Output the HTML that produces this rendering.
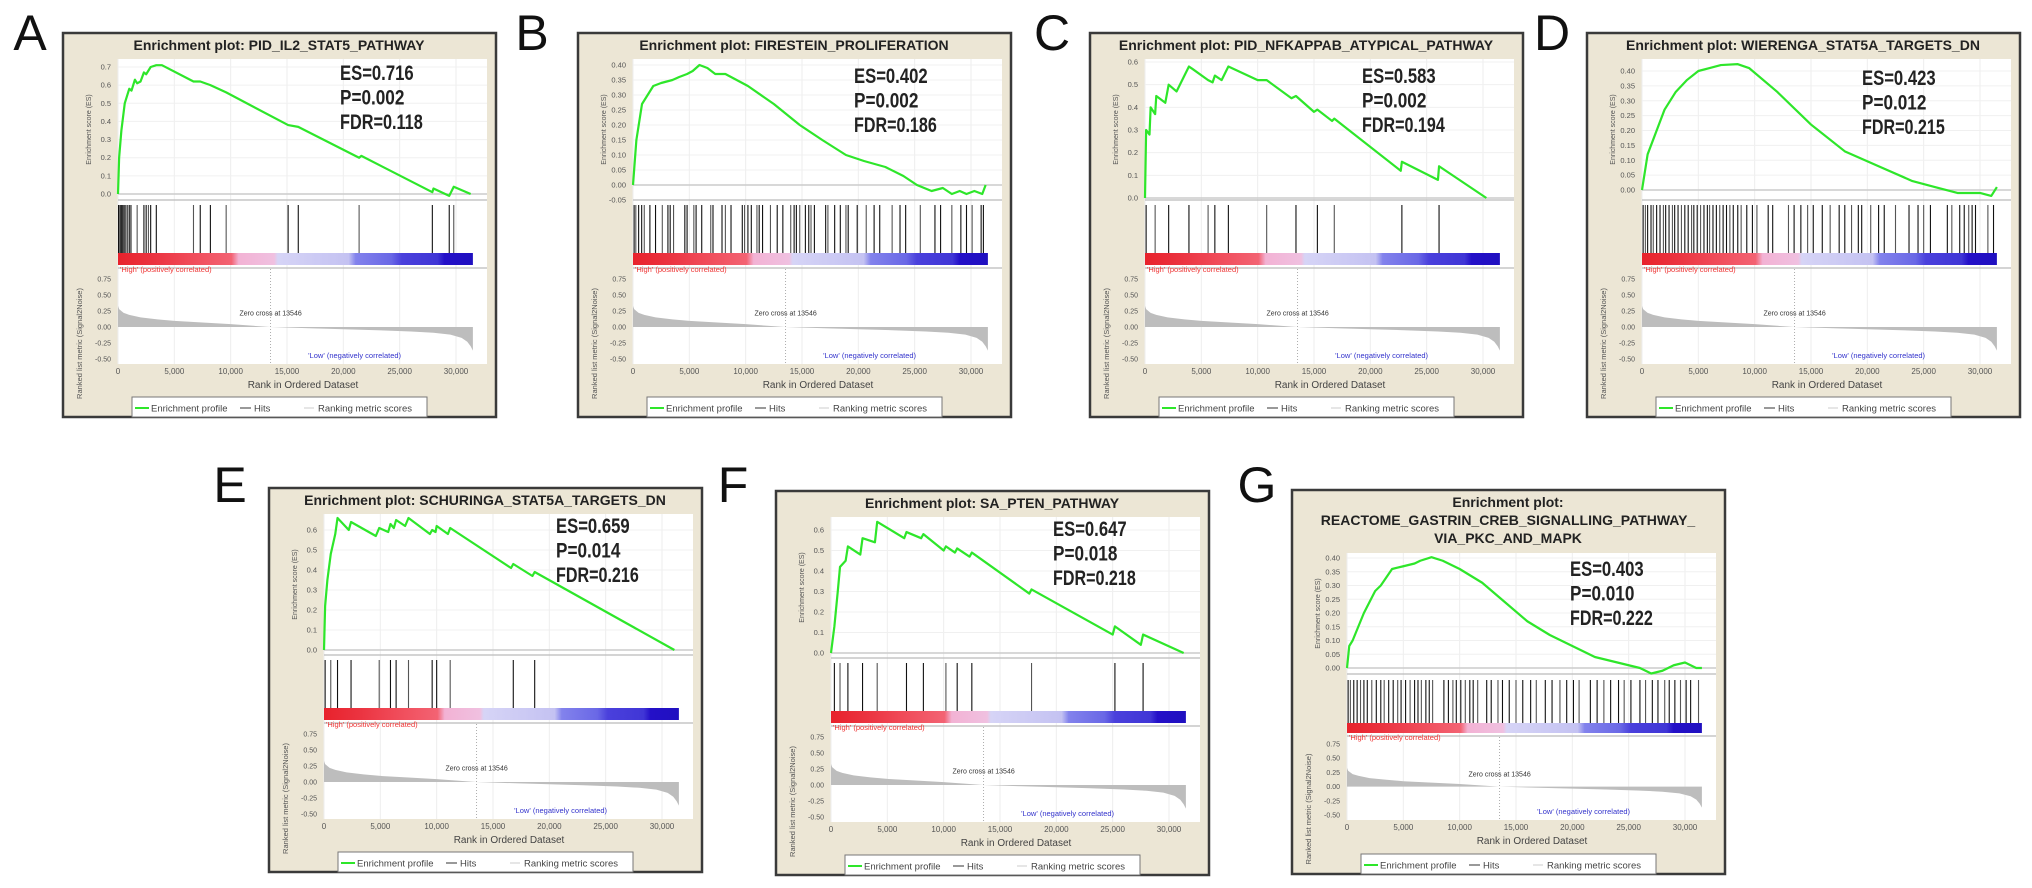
<!DOCTYPE html>
<html><head><meta charset="utf-8"><style>
html,body{margin:0;padding:0;background:#fff;}
svg{display:block;font-family:"Liberation Sans",sans-serif;}
</style></head><body>
<svg id="fig" width="2032" height="888" viewBox="0 0 2032 888" xmlns="http://www.w3.org/2000/svg"></svg>
<script>
// ---------- data (ranks in thousands) ----------
const metricRanks=[0,0.1,0.5,1,2,3.5,5,7.5,10,13.5,17,20,23,26,28,29.5,30.5,31,31.3,31.5];
const metricVals=[0.33,0.28,0.22,0.19,0.15,0.12,0.095,0.07,0.045,0,-0.02,-0.035,-0.05,-0.07,-0.09,-0.12,-0.17,-0.23,-0.3,-0.37];

const aRank=[0,0.1,0.3,0.6,1.0,1.2,1.5,1.7,2.0,2.3,2.5,2.9,3.4,3.9,6.7,7.3,8.2,9.6,15.1,16.0,21.4,21.6,27.9,28.0,29.4,29.8,31.3];
const aES=[0,0.2,0.35,0.5,0.58,0.57,0.63,0.61,0.62,0.67,0.66,0.7,0.71,0.71,0.62,0.62,0.6,0.56,0.38,0.37,0.2,0.21,0.01,0.03,-0.01,0.04,0.0];
const aHits=[0.05,0.15,0.25,0.35,0.45,0.55,0.7,0.85,1.0,1.15,1.7,2.3,2.5,2.7,2.9,3.4,6.7,7.3,8.2,9.6,15.1,16.0,21.4,27.9,29.4,29.8];

const bRank=[0,0.3,0.8,1.8,2.5,3.5,4.1,4.8,5.3,5.9,6.6,7.3,8.2,9.2,10.2,12.5,14.8,16.8,18.9,20.5,22.4,24.0,25.2,26.5,27.5,28.3,29.0,29.6,30.3,31.0,31.3];
const bES=[0,0.15,0.27,0.33,0.34,0.35,0.36,0.37,0.38,0.40,0.39,0.37,0.37,0.35,0.33,0.27,0.2,0.15,0.1,0.08,0.06,0.03,0.0,-0.02,-0.01,-0.03,-0.02,-0.03,-0.02,-0.03,0.0];
const bHits=[0.1,0.25,0.5,0.77,1.0,1.5,2.0,2.6,3.1,3.3,3.6,4.6,4.8,5.4,5.6,6.1,6.9,7.1,7.9,8.2,8.7,9.7,9.9,10.2,10.5,11.0,11.2,11.5,12.2,12.8,13.3,14.0,14.3,14.5,14.8,15.3,15.6,15.8,16.1,17.1,17.3,17.9,18.4,18.9,19.1,19.9,20.7,21.4,21.9,23.0,23.7,24.2,25.5,26.8,27.3,28.3,29.1,29.6,30.1,30.9,31.1];

const cRank=[0,0.1,0.4,0.5,0.9,1.0,1.8,2.1,2.8,3.9,4.2,5.6,6.0,6.2,6.8,7.4,10.0,10.8,13.0,13.4,15.0,15.3,16.6,16.8,22.7,22.8,26.0,26.1,30.3];
const cES=[0,0.3,0.28,0.40,0.37,0.45,0.42,0.50,0.47,0.58,0.57,0.52,0.51,0.54,0.52,0.58,0.52,0.52,0.44,0.45,0.38,0.39,0.34,0.35,0.12,0.16,0.08,0.14,0.0];
const cHits=[0.1,0.9,2.1,3.9,5.6,6.2,7.4,10.8,13.4,15.3,16.8,22.8,26.1];

const dRank=[0,0.5,1,2,3,4,5,6,7,8.5,9.5,12,15,18,21,24,26,28,30,31,31.5];
const dES=[0,0.12,0.17,0.27,0.33,0.37,0.40,0.41,0.42,0.423,0.41,0.33,0.22,0.13,0.08,0.03,0.01,-0.01,-0.01,-0.02,0.01];
const dHits=[0.1,0.3,0.5,0.8,1.0,1.3,1.6,1.9,2.1,2.4,2.7,2.9,3.2,3.5,3.8,4.1,4.4,4.6,4.9,5.2,5.5,5.8,6.0,6.3,6.6,6.9,7.2,7.5,7.8,8.1,8.5,8.8,9.3,9.8,10.2,11.2,11.6,13.0,13.5,14.1,14.7,15.2,16.0,16.7,17.5,18.0,18.6,19.2,19.5,20.3,21.0,21.5,22.5,23.7,24.5,25.0,25.6,27.1,27.5,28.2,28.6,29.0,29.3,29.6,30.7,31.2];

const eRank=[0,0.1,0.3,0.6,1.0,1.2,2.2,2.4,4.6,4.9,5.7,5.9,6.2,6.4,7.2,7.5,9.4,9.6,9.9,10.0,11.0,11.2,16.6,16.8,18.5,18.7,31.1];
const eES=[0,0.22,0.35,0.48,0.58,0.66,0.60,0.64,0.57,0.61,0.59,0.63,0.61,0.65,0.62,0.66,0.58,0.60,0.59,0.62,0.58,0.61,0.41,0.43,0.37,0.39,0.0];
const eHits=[0.1,0.6,1.2,2.4,4.9,5.9,6.4,7.5,9.6,10.0,11.2,16.8,18.7];

const fRank=[0,0.3,0.6,0.8,1.3,1.5,2.6,2.8,3.9,4.1,6.5,6.7,8.0,8.2,10.0,10.2,11.0,11.2,12.3,12.5,17.6,17.8,25.0,25.2,27.5,27.7,31.3];
const fES=[0,0.13,0.30,0.42,0.45,0.52,0.48,0.56,0.54,0.64,0.56,0.59,0.56,0.58,0.50,0.52,0.49,0.51,0.47,0.49,0.29,0.31,0.09,0.13,0.04,0.09,0.0];
const fHits=[0.3,0.8,1.5,2.8,4.1,6.7,8.2,10.2,11.2,12.5,17.8,25.2,27.7];

const gRank=[0,0.2,0.5,1,1.5,2,2.5,3,3.5,4,5,6,6.5,7.5,8.5,10,12,14,16,18,20,22,24,26,27,28,29,30,31,31.5];
const gES=[0,0.08,0.10,0.15,0.20,0.24,0.28,0.30,0.33,0.36,0.37,0.38,0.39,0.403,0.39,0.36,0.31,0.24,0.17,0.12,0.08,0.04,0.02,0.0,-0.02,-0.01,0.01,0.02,0.0,0.0];
const gHits=[0.1,0.3,0.6,0.9,1.2,1.5,1.8,2.2,2.6,3.0,3.3,3.7,4.1,4.5,4.8,5.2,5.6,6.0,6.3,6.6,7.0,7.3,7.6,8.6,9.0,9.4,9.7,10.1,10.5,10.9,11.2,11.6,12.4,12.8,13.4,13.8,14.4,15.0,15.6,16.3,16.8,17.6,18.2,18.9,19.5,20.1,20.6,21.6,22.2,22.8,23.4,24.1,24.6,25.2,26.0,26.5,27.1,27.6,28.2,28.6,29.1,29.6,30.1,30.5,31.2];

const rankTicks=[0,5,10,15,20,25,30];
const rankTickLabels=["0","5,000","10,000","15,000","20,000","25,000","30,000"];
const metricTicks=[0.75,0.5,0.25,0,-0.25,-0.5];
const metricTickLabels=["0.75","0.50","0.25","0.00","-0.25","-0.50"];
const zeroCross=13.546;

const panels=[
 {id:"a",letter:"A",lx:30,ly:50,fx:63,fy:33,title:["Enrichment plot: PID_IL2_STAT5_PATHWAY"],rank:aRank,es:aES,hits:aHits,ticks:[0,0.1,0.2,0.3,0.4,0.5,0.6,0.7],dec:1,tHi:[0.7,34],tLo:[0,161],stats:["ES=0.716","P=0.002","FDR=0.118"],sx:277,sy:39},
 {id:"b",letter:"B",lx:532,ly:50,fx:578,fy:33,title:["Enrichment plot: FIRESTEIN_PROLIFERATION"],rank:bRank,es:bES,hits:bHits,ticks:[-0.05,0,0.05,0.1,0.15,0.2,0.25,0.3,0.35,0.4],dec:2,tHi:[0.4,32],tLo:[-0.05,167],stats:["ES=0.402","P=0.002","FDR=0.186"],sx:276,sy:42},
 {id:"c",letter:"C",lx:1052,ly:50,fx:1090,fy:33,title:["Enrichment plot: PID_NFKAPPAB_ATYPICAL_PATHWAY"],rank:cRank,es:cES,hits:cHits,ticks:[0,0.1,0.2,0.3,0.4,0.5,0.6],dec:1,tHi:[0.6,29],tLo:[0,165],stats:["ES=0.583","P=0.002","FDR=0.194"],sx:272,sy:42},
 {id:"d",letter:"D",lx:1552,ly:50,fx:1587,fy:33,title:["Enrichment plot: WIERENGA_STAT5A_TARGETS_DN"],rank:dRank,es:dES,hits:dHits,ticks:[0,0.05,0.1,0.15,0.2,0.25,0.3,0.35,0.4],dec:2,tHi:[0.4,38],tLo:[0,157],stats:["ES=0.423","P=0.012","FDR=0.215"],sx:275,sy:44},
 {id:"e",letter:"E",lx:230,ly:502,fx:269,fy:488,title:["Enrichment plot: SCHURINGA_STAT5A_TARGETS_DN"],rank:eRank,es:eES,hits:eHits,ticks:[0,0.1,0.2,0.3,0.4,0.5,0.6],dec:1,tHi:[0.6,42],tLo:[0,162],stats:["ES=0.659","P=0.014","FDR=0.216"],sx:287,sy:37},
 {id:"f",letter:"F",lx:733,ly:502,fx:776,fy:491,title:["Enrichment plot: SA_PTEN_PATHWAY"],rank:fRank,es:fES,hits:fHits,ticks:[0,0.1,0.2,0.3,0.4,0.5,0.6],dec:1,tHi:[0.6,39],tLo:[0,162],stats:["ES=0.647","P=0.018","FDR=0.218"],sx:277,sy:37},
 {id:"g",letter:"G",lx:1257,ly:502,fx:1292,fy:490,title:["Enrichment plot:","REACTOME_GASTRIN_CREB_SIGNALLING_PATHWAY_","VIA_PKC_AND_MAPK"],rank:gRank,es:gES,hits:gHits,ticks:[0,0.05,0.1,0.15,0.2,0.25,0.3,0.35,0.4],dec:2,tHi:[0.4,68],tLo:[0,178],stats:["ES=0.403","P=0.010","FDR=0.222"],sx:278,sy:78,tall:true}
];

const NS="http://www.w3.org/2000/svg";
const svg=document.getElementById("fig");
function mk(tag,attrs,parent){const e=document.createElementNS(NS,tag);for(const k in attrs)e.setAttribute(k,attrs[k]);(parent||svg).appendChild(e);return e;}

panels.forEach(p=>{
  const fx=p.fx, fy=p.fy;
  const L = p.tall ? {top:63,esBot:184,hitsTop:190,barTop:233,barBot:243,hi:248,m75:254,m50:325,tick:338,xt:351} :
                     {top:26,esBot:167,hitsTop:172,barTop:220,barBot:232,hi:237,m75:246,m50:326,tick:339,xt:352};
  const px0=fx+55, pxR=fx+424;
  const xr=r=>px0+r*338/30;
  const ye=v=>fy+p.tLo[1]+(v-p.tLo[0])*(p.tHi[1]-p.tLo[1])/(p.tHi[0]-p.tLo[0]);
  const ym=v=>fy+L.m75+(0.75-v)*(L.m50-L.m75)/1.25;

  const lab=mk("text",{x:p.lx,y:p.ly,"font-size":50,"text-anchor":"middle",fill:"#111"});
  lab.textContent=p.letter;
  
  

  const g=mk("g",{});
  
  

  const fr=mk("rect",{x:fx,y:fy,width:433,height:384,fill:"#ece6d5",stroke:"#3a3a3a","stroke-width":2.5},g);
  
  

  p.title.forEach((t,i)=>{
    const tt=mk("text",{x:fx+216,y:fy+17+i*18,"font-size":14,"font-weight":"bold","text-anchor":"middle",fill:"#222"},g);
    tt.textContent=t;
    
    
  });

  const pa=mk("rect",{x:px0,y:fy+L.top,width:pxR-px0,height:L.tick-8-L.top,fill:"#fff"},g);
  
  

  rankTicks.forEach(r=>{
    const gl=mk("line",{x1:xr(r),x2:xr(r),y1:fy+L.top,y2:fy+L.tick-8,stroke:"#eee","stroke-width":1},g);
    
    
  });
  p.ticks.forEach(v=>{
    const gl=mk("line",{x1:px0,x2:pxR,y1:ye(v),y2:ye(v),stroke:v===0?"#ccc":"#f0f0f0","stroke-width":v===0?1.5:1},g);
    
    
    const tl=mk("text",{x:px0-7,y:ye(v)+2.5,"font-size":7.5,"text-anchor":"end",fill:"#555"},g);
    tl.textContent=v.toFixed(p.dec);
    
    
  });
  [L.esBot,L.barBot+3].forEach(yy=>{
    const s=mk("line",{x1:px0,x2:pxR,y1:fy+yy,y2:fy+yy,stroke:"#bbb","stroke-width":1.2},g);
    
    
  });

  const est=mk("text",{x:0,y:0,"font-size":7,"text-anchor":"middle",fill:"#555",transform:`translate(${fx+28},${fy+(L.top+L.esBot)/2}) rotate(-90)`},g);
  est.textContent="Enrichment score (ES)";
  
  

  const mt=mk("text",{x:0,y:0,"font-size":7.5,"text-anchor":"middle",fill:"#555",transform:`translate(${fx+19},${fy+(L.hitsTop+L.tick)/2+55}) rotate(-90)`},g);
  mt.textContent="Ranked list metric (Signal2Noise)";
  
  

  p.hits.forEach((h,i)=>{
    const hl=mk("line",{x1:xr(h),x2:xr(h),y1:fy+L.hitsTop,y2:fy+L.barTop,stroke:i%3===1?"#555":"#111","stroke-width":1.1},g);
    
    
  });

  const gid="bar"+p.id;
  const defs=mk("defs",{},g);
  const lg=mk("linearGradient",{id:gid,x1:0,x2:1,y1:0,y2:0},defs);
  [["0","#e8222c"],["0.1","#eb3340"],["0.2","#f04a58"],["0.32","#f36373"],["0.34","#f2b2d4"],["0.44","#f0c0e0"],["0.45","#d6d4f6"],["0.65","#c4c2f2"],["0.67","#8282ec"],["0.77","#6a68e6"],["0.8","#4a40dc"],["0.9","#4036d6"],["0.92","#2410c8"],["1","#2010c0"]].forEach(s=>{mk("stop",{offset:s[0],"stop-color":s[1]},lg);});
  const bar=mk("rect",{x:px0,y:fy+L.barTop,width:xr(31.5)-px0,height:L.barBot-L.barTop,fill:`url(#${gid})`},g);
  
  

  const hi=mk("text",{x:px0+2,y:fy+L.hi+2,"font-size":7.5,fill:"#e33"},g);
  hi.textContent="'High' (positively correlated)";
  
  

  metricTicks.forEach((v,i)=>{
    const tl=mk("text",{x:px0-7,y:ym(v)+2.5,"font-size":7,"text-anchor":"end",fill:"#555"},g);
    tl.textContent=metricTickLabels[i];
    
    
  });

  let pts=metricRanks.map((r,i)=>xr(r)+","+ym(metricVals[i]));
  pts.push(xr(metricRanks[metricRanks.length-1])+","+ym(0));
  pts.push(xr(0)+","+ym(0));
  const mf=mk("polygon",{points:pts.join(" "),fill:"#bdbdbd"},g);
  
  

  const zc=mk("line",{x1:xr(zeroCross),x2:xr(zeroCross),y1:fy+L.barBot+4,y2:fy+L.tick-8,stroke:"#999","stroke-width":0.8,"stroke-dasharray":"1,2"},g);
  
  
  const zt=mk("text",{x:xr(zeroCross),y:ym(0.18),"font-size":7,"text-anchor":"middle",fill:"#333"},g);
  zt.textContent="Zero cross at 13546";
  
  
  const lo=mk("text",{x:xr(21),y:ym(-0.5)-1,"font-size":7.5,"text-anchor":"middle",fill:"#33c"},g);
  lo.textContent="'Low' (negatively correlated)";
  
  

  rankTicks.forEach((r,i)=>{
    const tl=mk("text",{x:xr(r),y:fy+L.tick+2,"font-size":8,"text-anchor":"middle",fill:"#555"},g);
    tl.textContent=rankTickLabels[i];
    
    
  });
  const xt=mk("text",{x:fx+240,y:fy+L.xt+3,"font-size":10,"text-anchor":"middle",fill:"#444"},g);
  xt.textContent="Rank in Ordered Dataset";
  
  

  const es=mk("polyline",{points:p.rank.map((r,i)=>xr(r)+","+ye(p.es[i])).join(" "),fill:"none",stroke:"#2ee62a","stroke-width":2.2,"stroke-linejoin":"round"},g);
  
  

  p.stats.forEach((s,i)=>{
    const st=mk("text",{x:fx+p.sx,y:fy+p.sy+8+i*24.5,"font-size":21,"font-weight":"bold",fill:"#222",textLength:s.length*9.2,lengthAdjust:"spacingAndGlyphs"},g);
    st.textContent=s;
    
    
  });

  const lgd=mk("g",{},g);
  
  
  mk("rect",{x:fx+69,y:fy+364,width:295,height:20,fill:"#fff",stroke:"#777","stroke-width":1},lgd);
  const l1=mk("line",{x1:fx+72,x2:fx+86,y1:fy+375,y2:fy+375,stroke:"#2ee62a","stroke-width":2},lgd);
  
  
  const t1=mk("text",{x:fx+88,y:fy+378.5,"font-size":9.5,fill:"#444"},lgd);
  t1.textContent="Enrichment profile";
  
  
  mk("line",{x1:fx+177,x2:fx+188,y1:fy+375,y2:fy+375,stroke:"#333","stroke-width":1},lgd);
  const t2=mk("text",{x:fx+191,y:fy+378.5,"font-size":9.5,fill:"#444"},lgd);
  t2.textContent="Hits";
  
  
  mk("line",{x1:fx+241,x2:fx+251,y1:fy+375,y2:fy+375,stroke:"#ccc","stroke-width":1},lgd);
  const t3=mk("text",{x:fx+255,y:fy+378.5,"font-size":9.5,fill:"#444"},lgd);
  t3.textContent="Ranking metric scores";
  
  
});
</script>
</body></html>
